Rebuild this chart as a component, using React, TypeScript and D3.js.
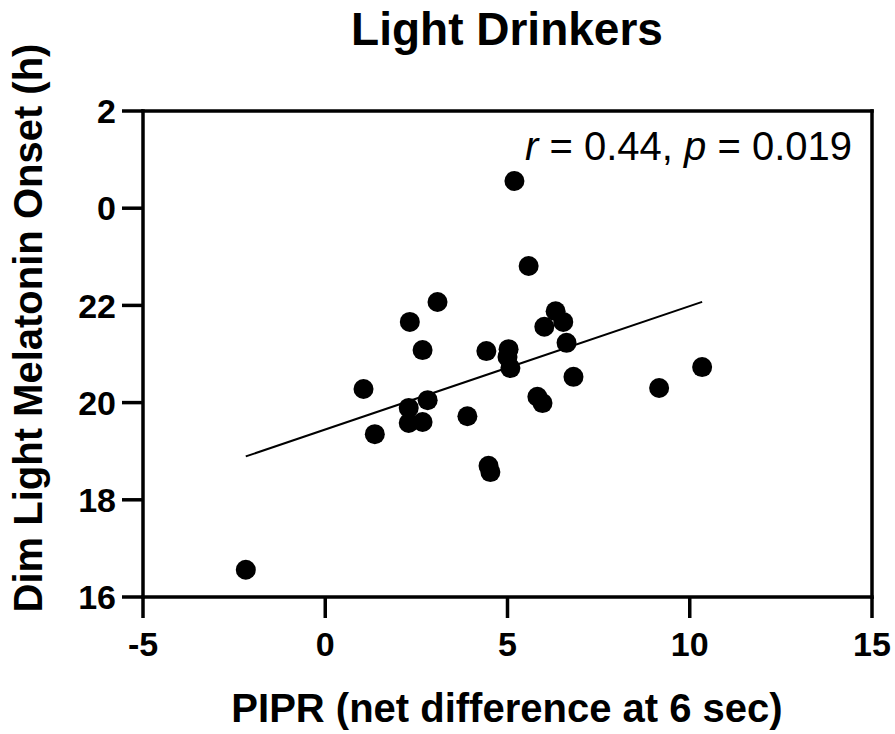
import React from 'react';
import * as d3 from 'd3';

// PIPR (net difference at 6 sec)
const pipr = [
  -2.18, 1.05, 1.36, 2.29, 2.29, 2.67, 2.81, 2.32, 2.67, 3.08,
  3.9, 4.42, 4.48, 4.53, 5.03, 5.0, 5.08, 5.19, 5.58, 5.82,
  5.96, 6.01, 6.32, 6.53, 6.62, 6.81, 9.16, 10.34,
];
// DLMO in clock hours, past midnight written as 24+
const dlmo = [
  16.56, 20.28, 19.35, 19.89, 19.58, 19.6, 20.05, 21.66, 21.08, 22.07,
  19.72, 21.06, 18.7, 18.57, 21.1, 20.94, 20.71, 24.56, 22.81, 20.12,
  19.99, 21.56, 21.88, 21.66, 21.23, 20.53, 20.3, 20.73,
];
const xTicks = [-5, 0, 5, 10, 15];
const yTicks = [16, 18, 20, 22, 24, 26];

const title = 'Light Drinkers';
const xTitle = 'PIPR (net difference at 6 sec)';
const yTitle = 'Dim Light Melatonin Onset (h)';

const W = 895;
const H = 734;
const left = 143, right = 872, top = 111, bottom = 597;
const tickLen = 21;
const font = '"Liberation Sans", Arial, sans-serif';

export default function App() {
  const x = d3.scaleLinear().domain([-5, 15]).range([left, right]);
  const y = d3.scaleLinear().domain([16, 26]).range([bottom, top]);

  const pts = pipr.map((v, i) => [v, dlmo[i]] as [number, number]);

  // least squares fit, drawn over the data range
  const mx = d3.mean(pipr)!;
  const my = d3.mean(dlmo)!;
  const sxy = d3.sum(pts, (p) => (p[0] - mx) * (p[1] - my));
  const sxx = d3.sum(pts, (p) => (p[0] - mx) ** 2);
  const slope = sxy / sxx;
  const icpt = my - slope * mx;
  const [x0, x1] = d3.extent(pipr) as [number, number];
  const fit = d3.line<number>().x((d) => x(d)).y((d) => y(icpt + slope * d));

  return (
    <svg width={W} height={H} style={{ position: 'absolute', left: 0, top: 0, background: '#fff' }}>
      <text x={507} y={45} textAnchor="middle" fontFamily={font} fontWeight="bold" fontSize={46}>
        {title}
      </text>

      {/* frame */}
      <g stroke="#000" strokeWidth={3.5} fill="none" strokeLinecap="square">
        <line x1={left} x2={left} y1={top} y2={bottom} />
        <line x1={left} x2={right} y1={bottom} y2={bottom} />
        <line x1={left} x2={right} y1={top} y2={top} />
        <line x1={right} x2={right} y1={top} y2={bottom} />
      </g>

      {yTicks.map((t) => (
        <g key={'y' + t}>
          <line x1={left - tickLen} x2={left} y1={y(t)} y2={y(t)} stroke="#000" strokeWidth={3.5} />
          <text x={116} y={y(t)} dy="0.36em" textAnchor="end" fontFamily={font} fontWeight="bold" fontSize={34}>
            {t % 24}
          </text>
        </g>
      ))}
      {xTicks.map((t) => (
        <g key={'x' + t}>
          <line x1={x(t)} x2={x(t)} y1={bottom} y2={bottom + tickLen} stroke="#000" strokeWidth={3.5} />
          <text x={x(t)} y={656} textAnchor="middle" fontFamily={font} fontWeight="bold" fontSize={34}>
            {t}
          </text>
        </g>
      ))}

      <text x={507} y={722} textAnchor="middle" fontFamily={font} fontWeight="bold" fontSize={40}>
        {xTitle}
      </text>
      <text
        transform={`translate(42,328) rotate(-90)`}
        textAnchor="middle"
        fontFamily={font}
        fontWeight="bold"
        fontSize={40}
      >
        {yTitle}
      </text>

      <path d={fit([x0, x1]) || ''} stroke="#000" strokeWidth={2} fill="none" />

      {pts.map((p, i) => (
        <circle key={i} cx={x(p[0])} cy={y(p[1])} r={10} fill="#000" />
      ))}

      <text x={852} y={160} textAnchor="end" fontFamily={font} fontSize={40}>
        <tspan fontStyle="italic">r</tspan> = 0.44, <tspan fontStyle="italic">p</tspan> = 0.019
      </text>
    </svg>
  );
}
